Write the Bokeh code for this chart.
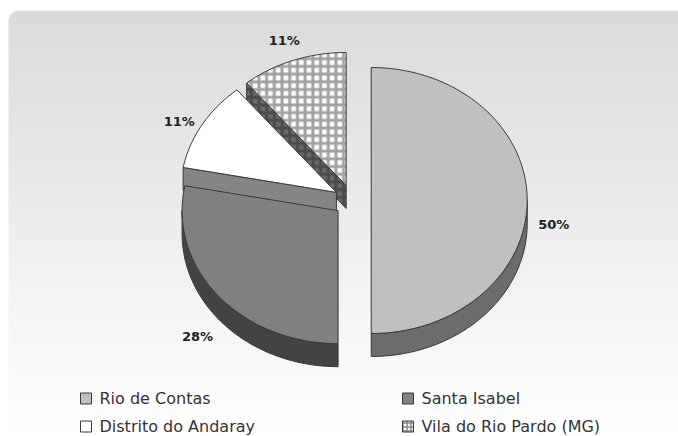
import numpy as np
from bokeh.plotting import figure
from bokeh.models import Range1d
from bokeh.embed import file_html
from bokeh.resources import INLINE
from bokeh.core.properties import value

# ---------------- data ----------------
categories = ["Rio de Contas", "Santa Isabel", "Distrito do Andaray", "Vila do Rio Pardo (MG)"]
percent = [50, 28, 11, 11]
labels = ["50%", "28%", "11%", "11%"]

# ---------------- styles ----------------
top_colors = ["#c0c0c0", "#808080", "#ffffff", "#ffffff"]
side_colors = ["#6c6c6c", "#434343", "#858585", "#6a6a6a"]
top_hatch = [None, None, None, "cross"]
side_hatch_color = [None, None, None, "#4a4a4a"]
OUTLINE = "#383838"

W, H = 678, 436
p = figure(width=W, height=H, x_range=Range1d(0, W), y_range=Range1d(0, H),
           output_backend="svg", toolbar_location=None, min_border=0,
           x_axis_location=None, y_axis_location=None)
p.grid.visible = False
p.outline_line_color = None
p.background_fill_color = "white"
p.border_fill_color = "white"

# ---------------- gradient panel background ----------------
yy, xx = np.mgrid[0:H, 0:W]
ypx = H - yy - 0.5
xpx = xx + 0.5
box_l, box_t, rad = 8, 10, 11
inside = (xpx >= box_l) & (ypx >= box_t)
ccx, ccy = box_l + rad, box_t + rad
corner = (xpx < ccx) & (ypx < ccy) & ((xpx - ccx) ** 2 + (ypx - ccy) ** 2 > rad ** 2)
inside &= ~corner
t = np.clip((ypx - box_t) / (425 - box_t), 0, 1)
g = 219 + (255 - 219) * t
gray = np.where(inside, g, 255).astype(np.uint8)
img = np.empty((H, W), dtype=np.uint32)
view = img.view(dtype=np.uint8).reshape((H, W, 4))
view[..., 0] = gray
view[..., 1] = gray
view[..., 2] = gray
view[..., 3] = 255
p.image_rgba(image=[img], x=0, y=0, dw=W, dh=H)

# ---------------- 3D exploded pie ----------------
cx, cy = 352, H - 200
rx, ry = 156, 133
depth = 23
explode = 0.12

vals = np.array(percent, dtype=float)
cum = np.concatenate([[0], np.cumsum(vals)])
starts = cum[:-1] / cum[-1] * 2 * np.pi
ends = cum[1:] / cum[-1] * 2 * np.pi
mids = (starts + ends) / 2


def arc(ax, ay, a0, a1):
    n = max(3, int(abs(a1 - a0) / np.pi * 180) + 1)
    a = np.linspace(a0, a1, n)
    return ax + rx * np.sin(a), ay + ry * np.cos(a)


def patch(xs, ys, fill, hatch=None, hatch_color=None, hscale=7.7, hweight=3):
    kw = dict(fill_color=fill, line_color=OUTLINE, line_width=1)
    if hatch:
        kw.update(hatch_pattern=hatch, hatch_color=hatch_color, hatch_scale=hscale,
                  hatch_weight=hweight)
    p.patch(list(xs), list(ys), **kw)


order = sorted(range(len(vals)), key=lambda i: -np.cos(mids[i]))
for i in order:
    s, e, m = starts[i], ends[i], mids[i]
    ax = cx + explode * rx * np.sin(m)
    ay = cy + explode * ry * np.cos(m)
    hs = "cross" if top_hatch[i] else None
    # cut face at start edge
    if np.sin(s) < -1e-9:
        px, py = ax + rx * np.sin(s), ay + ry * np.cos(s)
        patch([ax, px, px, ax], [ay, py, py - depth, ay - depth], side_colors[i],
              hs, side_hatch_color[i])
    # cut face at end edge
    if np.sin(e) > 1e-9:
        px, py = ax + rx * np.sin(e), ay + ry * np.cos(e)
        patch([ax, px, px, ax], [ay, py, py - depth, ay - depth], side_colors[i],
              hs, side_hatch_color[i])
    # outer rim (front half only)
    lo, hi = max(s, np.pi / 2), min(e, 3 * np.pi / 2)
    if hi > lo:
        tx, ty = arc(ax, ay, lo, hi)
        xs = np.concatenate([tx, tx[::-1]])
        ys = np.concatenate([ty, (ty - depth)[::-1]])
        patch(xs, ys, side_colors[i], hs, side_hatch_color[i])
    # top face
    tx, ty = arc(ax, ay, s, e)
    xs = np.concatenate([[ax], tx])
    ys = np.concatenate([[ay], ty])
    patch(xs, ys, top_colors[i], hs, "#a2a2a2")

    # data label
    k = 1.17
    lx = ax + k * rx * np.sin(m)
    ly = ay + k * ry * np.cos(m) - depth * (1 - np.cos(m)) * 0.7 - depth * 0.35 * max(0.0, np.sin(m))
    p.text(x=[lx], y=[ly], text=[labels[i]], text_font=value("DejaVu Sans"),
           text_font_size="13px", text_font_style="bold", text_color="#222222",
           text_align="center", text_baseline="middle")

# ---------------- legend ----------------
row_y = [H - 398, H - 426]
col_x = [80, 402]
sq = 11
for i, name in enumerate(categories):
    r, c = i // 2, i % 2
    x0, yc = col_x[c], row_y[r]
    hs = "cross" if top_hatch[i] else None
    kw = dict(fill_color=top_colors[i], line_color=OUTLINE, line_width=1)
    if hs:
        kw.update(hatch_pattern=hs, hatch_color="#8a8a8a", hatch_scale=4, hatch_weight=1.5)
    p.rect(x=[x0 + sq / 2], y=[yc], width=sq, height=sq, **kw)
    p.text(x=[x0 + sq + 8], y=[yc], text=[name], text_font=value("DejaVu Sans"),
           text_font_size="16px", text_color="#333333", text_align="left",
           text_baseline="middle")

open("out.html", "w").write(file_html(p, INLINE))
